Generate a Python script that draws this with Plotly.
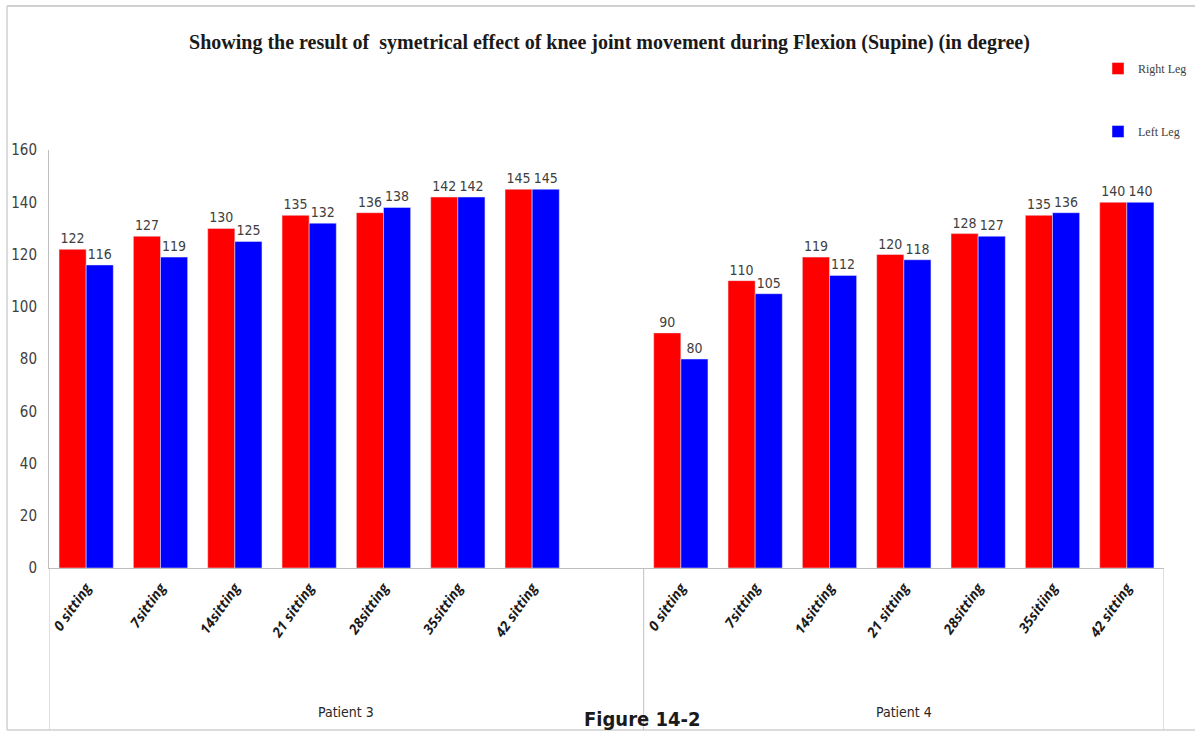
import plotly.graph_objects as go

# ---- data ---------------------------------------------------------------
patients = ["Patient 3", "Patient 4"]
sittings_p3 = ["0 sitting", "7sitting", "14sitting", "21 sitting", "28sitting", "35sitting", "42 sitting"]
sittings_p4 = ["0 sitting", "7sitting", "14sitting", "21 sitting", "28sitting", "35sitiing", "42 sitting"]
right_p3 = [122, 127, 130, 135, 136, 142, 145]
left_p3 = [116, 119, 125, 132, 138, 142, 145]
right_p4 = [90, 110, 119, 120, 128, 135, 140]
left_p4 = [80, 105, 112, 118, 127, 136, 140]
y_ticks = [0, 20, 40, 60, 80, 100, 120, 140, 160]

# category slots: patient 3, one empty slot, patient 4
n3 = len(sittings_p3)
x_p3 = list(range(n3))
x_p4 = [n3 + 1 + i for i in range(len(sittings_p4))]
x_all = x_p3 + x_p4
labels_all = sittings_p3 + sittings_p4
right_all = right_p3 + right_p4
left_all = left_p3 + left_p4
n_slots = x_p4[-1] + 1

W, H = 1195, 736
L, R, T, B = 49, 1164, 150, 568


def px(xp):
    return (xp - L) / (R - L)


def py(yp):
    return (B - yp) / (B - T)


label_font = dict(family="DejaVu Sans Condensed, sans-serif", size=14, color="#404040")

fig = go.Figure()
fig.add_trace(go.Bar(
    x=x_all, y=right_all, name="Right Leg", marker_color="#FF0000",
    text=right_all, textposition="outside", textfont=label_font,
    constraintext="none", cliponaxis=False, legendgroup="r",
))
fig.add_trace(go.Bar(
    x=x_all, y=left_all, name="Left Leg", marker_color="#0000FF",
    text=left_all, textposition="outside", textfont=label_font,
    constraintext="none", cliponaxis=False, legendgroup="l",
))

axis_grey = "#BFBFBF"
fig.update_layout(
    width=W, height=H,
    margin=dict(l=L, r=W - R, t=T, b=H - B, pad=0, autoexpand=False),
    paper_bgcolor="white", plot_bgcolor="white",
    barmode="group", bargap=0.27, bargroupgap=0,
    title=dict(
        text="Showing the result of  symetrical effect of knee joint movement during Flexion (Supine) (in degree)",
        x=0.51, xanchor="center", y=1 - 42 / H, yanchor="middle",
        font=dict(family="Liberation Serif, serif", size=20, color="#1a1a1a", weight="bold"),
    ),
    legend=dict(
        x=px(1098), xanchor="left", y=py(54), yanchor="top",
        font=dict(family="Liberation Serif, serif", size=12, color="#404040"),
        tracegroupgap=44, itemwidth=30, bgcolor="rgba(0,0,0,0)",
    ),
    xaxis=dict(
        range=[-0.5, n_slots - 0.5], tickmode="array", tickvals=x_all, ticktext=labels_all,
        tickangle=-55, showgrid=False, zeroline=False, showline=True, linecolor=axis_grey, linewidth=1,
        ticks="outside", ticklen=5, tickcolor="rgba(0,0,0,0)",
        tickfont=dict(family="Open Sans, DejaVu Sans, sans-serif", size=14, color="#1a1a1a",
                      weight="bold", style="italic"),
    ),
    yaxis=dict(
        range=[0, 160], tickmode="array", tickvals=y_ticks, showgrid=False, zeroline=False,
        showline=True, linecolor=axis_grey, linewidth=1, ticks="",
        tickfont=dict(family="DejaVu Sans Condensed, sans-serif", size=15, color="#404040"),
        ticklabelstandoff=8,
    ),
    showlegend=True,
)

shapes = []
# outer chart border (top, left, bottom)
shapes.append(dict(type="line", xref="paper", yref="paper", x0=px(7), x1=px(W), y0=py(6), y1=py(6),
                   line=dict(color="#D0D0D0", width=2)))
shapes.append(dict(type="line", xref="paper", yref="paper", x0=px(7), x1=px(7), y0=py(6), y1=py(730),
                   line=dict(color="#D0D0D0", width=1.5)))
shapes.append(dict(type="line", xref="paper", yref="paper", x0=px(7), x1=px(W), y0=py(730), y1=py(730),
                   line=dict(color="#D0D0D0", width=1.5)))
# category group dividers below the axis
for xd in [-0.5, n3 + 0.5, n_slots - 0.5]:
    shapes.append(dict(type="line", xref="x", yref="paper", x0=xd, x1=xd, y0=0, y1=py(730),
                       line=dict(color=axis_grey, width=1)))
fig.update_layout(shapes=shapes)

group_font = dict(family="DejaVu Sans Condensed, sans-serif", size=14, color="#262626")
group_centers = [(-0.5 + n3 + 0.5) / 2, (n3 + 0.5 + n_slots - 0.5) / 2]
for name, xc in zip(patients, group_centers):
    fig.add_annotation(text=name, xref="x", yref="paper", x=xc, y=py(712), showarrow=False,
                       xanchor="center", yanchor="middle", font=group_font)

fig.add_annotation(text="Figure 14-2", xref="paper", yref="paper", x=px(642), y=py(719), showarrow=False,
                   xanchor="center", yanchor="middle",
                   font=dict(family="DejaVu Sans Condensed, sans-serif", size=20,
                             color="#1a1a1a", weight="bold"))

fig.write_html("out.html")
